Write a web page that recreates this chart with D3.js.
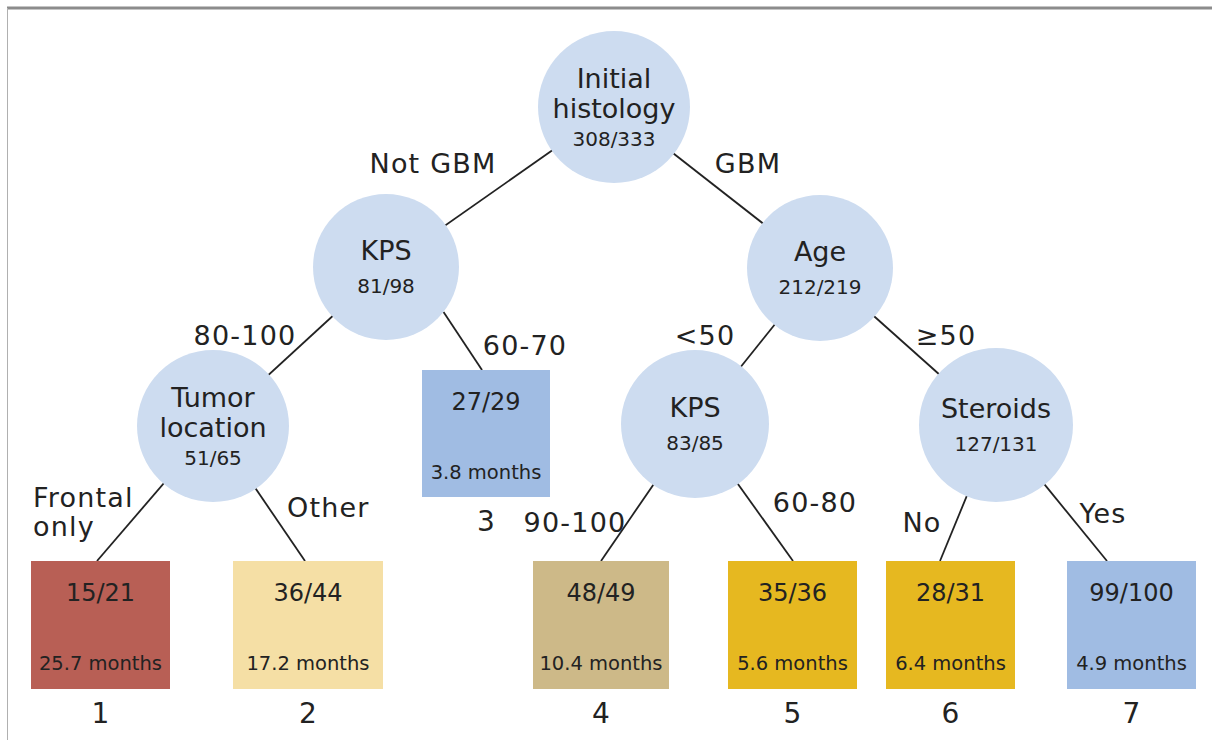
<!DOCTYPE html>
<html>
<head>
<meta charset="utf-8">
<script src="https://cdn.jsdelivr.net/npm/d3@7"></script>
<style>
  html, body { margin: 0; padding: 0; background: #fff; }
  svg { display: block; font-family: "DejaVu Sans", sans-serif; }
</style>
</head>
<body>
<svg id="chart" width="1212" height="740"></svg>
<script>
// Decision tree: split nodes (circles) and terminal groups (boxes)
const splitIds = ["root", "kps1", "age", "tumor", "kps2", "steroids"];
const splitTitles = [["Initial", "histology"], ["KPS"], ["Age"], ["Tumor", "location"], ["KPS"], ["Steroids"]];
const splitCounts = ["308/333", "81/98", "212/219", "51/65", "83/85", "127/131"];

const leafIds = ["g1", "g2", "g3", "g4", "g5", "g6", "g7"];
const leafNumbers = ["1", "2", "3", "4", "5", "6", "7"];
const leafCounts = ["15/21", "36/44", "27/29", "48/49", "35/36", "28/31", "99/100"];
const leafMonths = [25.7, 17.2, 3.8, 10.4, 5.6, 6.4, 4.9];

const edgeParents = ["root", "root", "kps1", "kps1", "age", "age", "tumor", "tumor", "kps2", "kps2", "steroids", "steroids"];
const edgeChildren = ["kps1", "age", "tumor", "g3", "kps2", "steroids", "g1", "g2", "g4", "g5", "g6", "g7"];
const edgeLabels = [["Not GBM"], ["GBM"], ["80-100"], ["60-70"], ["<50"], ["\u226550"], ["Frontal", "only"], ["Other"], ["90-100"], ["60-80"], ["No"], ["Yes"]];

// layout (hand placed, like the printed figure)
const circleLayout = {
  root:     { x: 614, y: 107, r: 76 },
  kps1:     { x: 386, y: 267, r: 73 },
  age:      { x: 820, y: 268, r: 73 },
  tumor:    { x: 213, y: 426, r: 76 },
  kps2:     { x: 695, y: 424, r: 74 },
  steroids: { x: 996, y: 425, r: 77 }
};
const boxLayout = {
  g1: { x0: 31,   x1: 170,  y0: 561, y1: 689, anchor: 97,   fill: "#b85f55" },
  g2: { x0: 233,  x1: 383,  y0: 561, y1: 689, anchor: 305,  fill: "#f5dfa5" },
  g3: { x0: 422,  x1: 550,  y0: 370, y1: 497, anchor: 482,  fill: "#a0bce3" },
  g4: { x0: 533,  x1: 669,  y0: 561, y1: 689, anchor: 601,  fill: "#cdb988" },
  g5: { x0: 728,  x1: 857,  y0: 561, y1: 689, anchor: 793,  fill: "#e6b820" },
  g6: { x0: 886,  x1: 1015, y0: 561, y1: 689, anchor: 940,  fill: "#e6b820" },
  g7: { x0: 1067, x1: 1196, y0: 561, y1: 689, anchor: 1107, fill: "#a0bce3" }
};
// label placement per edge: [x, y, anchor]
const labelLayout = [
  [433, 163, "middle"], [748, 163, "middle"], [245, 335, "middle"], [525, 345, "middle"],
  [705, 335, "middle"], [946, 335, "middle"], [33, 497, "start"], [287, 507, "start"],
  [575, 522, "middle"], [815, 502, "middle"], [922, 522, "middle"], [1103, 513, "middle"]
];
// a few edges leave the parent off-centre
const edgeExitAngle = { "kps1-g3": 38 };

const ink = "#222";
const svg = d3.select("#chart");

// frame lines
svg.append("line").attr("x1", 7).attr("x2", 1212).attr("y1", 8).attr("y2", 8)
  .attr("stroke", "#8c8c8c").attr("stroke-width", 3);
svg.append("line").attr("x1", 7.5).attr("x2", 7.5).attr("y1", 8).attr("y2", 740)
  .attr("stroke", "#b0b0b0").attr("stroke-width", 1);

const splits = splitIds.map((id, i) => ({ id, title: splitTitles[i], count: splitCounts[i], ...circleLayout[id] }));
const leaves = leafIds.map((id, i) => ({ id, num: leafNumbers[i], count: leafCounts[i], months: leafMonths[i], ...boxLayout[id] }));
const byId = {};
splits.forEach(d => byId[d.id] = d);
leaves.forEach(d => byId[d.id] = d);

const edges = edgeParents.map((p, i) => {
  const par = byId[p], ch = byId[edgeChildren[i]];
  const end = ch.r ? { x: ch.x, y: ch.y } : { x: ch.anchor, y: ch.y0 };
  let start = { x: par.x, y: par.y };
  const a = edgeExitAngle[p + "-" + ch.id];
  if (a !== undefined) {
    const rad = a * Math.PI / 180;
    start = { x: par.x + par.r * Math.cos(rad), y: par.y + par.r * Math.sin(rad) };
  }
  return { start, end, label: edgeLabels[i], pos: labelLayout[i] };
});

// edges under nodes
svg.append("g").selectAll("line").data(edges).join("line")
  .attr("x1", d => d.start.x).attr("y1", d => d.start.y)
  .attr("x2", d => d.end.x).attr("y2", d => d.end.y)
  .attr("stroke", ink).attr("stroke-width", 1.8);

// edge labels
const el = svg.append("g").selectAll("text").data(edges).join("text")
  .attr("x", d => d.pos[0]).attr("y", d => d.pos[1])
  .attr("text-anchor", d => d.pos[2])
  .attr("font-size", 27).attr("fill", ink).attr("letter-spacing", 1.2);
el.selectAll("tspan").data(d => d.label.map((t, j) => ({ t, j, x: d.pos[0] }))).join("tspan")
  .attr("x", d => d.x)
  .attr("dy", (d, j) => j === 0 ? "0.36em" : "1.1em")
  .text(d => d.t);

// split circles
const sg = svg.append("g").selectAll("g").data(splits).join("g")
  .attr("transform", d => `translate(${d.x},${d.y})`);
sg.append("circle").attr("r", d => d.r).attr("fill", "#cddcf0");
sg.each(function(d) {
  const g = d3.select(this);
  const two = d.title.length === 2;
  const ys = two ? [-29, 1] : [-17];
  d.title.forEach((t, j) => {
    g.append("text").attr("y", ys[j]).attr("dy", "0.36em").attr("text-anchor", "middle")
      .attr("font-size", 27).attr("fill", ink).text(t);
  });
  g.append("text").attr("y", two ? 32 : 19).attr("dy", "0.36em").attr("text-anchor", "middle")
    .attr("font-size", 20).attr("fill", ink).text(d.count);
});

// terminal boxes
const lg = svg.append("g").selectAll("g").data(leaves).join("g");
lg.append("rect")
  .attr("x", d => d.x0).attr("y", d => d.y0)
  .attr("width", d => d.x1 - d.x0).attr("height", d => d.y1 - d.y0)
  .attr("fill", d => d.fill);
lg.append("text")
  .attr("x", d => (d.x0 + d.x1) / 2).attr("y", d => d.y0 + 31).attr("dy", "0.36em")
  .attr("text-anchor", "middle").attr("font-size", 24).attr("fill", ink)
  .text(d => d.count);
lg.append("text")
  .attr("x", d => (d.x0 + d.x1) / 2).attr("y", d => d.y0 + 102).attr("dy", "0.36em")
  .attr("text-anchor", "middle").attr("font-size", 19.5).attr("fill", ink)
  .text(d => d3.format(".1f")(d.months) + " months");
lg.append("text")
  .attr("x", d => (d.x0 + d.x1) / 2).attr("y", d => d.y1 + 24).attr("dy", "0.36em")
  .attr("text-anchor", "middle").attr("font-size", 28).attr("fill", ink)
  .text(d => d.num);
</script>
</body>
</html>
